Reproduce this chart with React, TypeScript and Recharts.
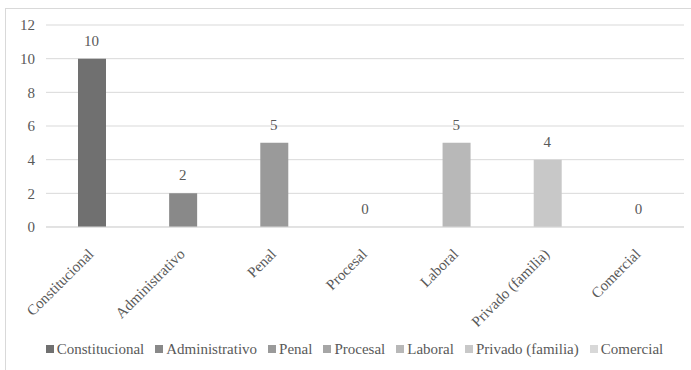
import { ComposedChart, Bar, Line, XAxis, YAxis, CartesianGrid, Cell, LabelList, Legend } from 'recharts';

const categories = ['Constitucional', 'Administrativo', 'Penal', 'Procesal', 'Laboral', 'Privado (familia)', 'Comercial'];
const values = [10, 2, 5, 0, 5, 4, 0];
const colors = ['#707070', '#898989', '#9a9a9a', '#a6a6a6', '#b8b8b8', '#c8c8c8', '#d8d8d8'];
const yTicks = [0, 2, 4, 6, 8, 10, 12];

const data = categories.map((name, i) => ({ name, value: values[i] }));

const FONT = '"Liberation Serif", serif';
const TEXT = '#595959';
const SIZE = 15;

// rotated category label, text ends near the tick
const AngledTick = (props: any) => {
	const { x, y, payload } = props;
	return (
		<g transform={`translate(${x + 3},${y + 20})`}>
			<text transform='rotate(-45)' textAnchor='end' fontSize={SIZE} fontFamily={FONT} fill={TEXT}>
				{payload.value}
			</text>
		</g>
	);
};

const LegendBox = () => (
	<div
		style={{
			display: 'flex',
			justifyContent: 'center',
			fontFamily: FONT,
			fontSize: SIZE,
			color: TEXT,
			lineHeight: '20px',
			whiteSpace: 'nowrap',
			paddingLeft: 30,
		}}
	>
		{categories.map((name, i) => (
			<span key={name} style={{ display: 'inline-flex', alignItems: 'center', marginRight: 11 }}>
				<span style={{ width: 8, height: 8, background: colors[i], marginRight: 3 }} />
				{name}
			</span>
		))}
	</div>
);

export default function App() {
	return (
		<div
			style={{
				position: 'absolute',
				left: 0,
				top: 0,
				width: 691,
				height: 370,
				overflow: 'hidden',
				background: '#fff',
				fontFamily: FONT,
			}}
		>
			<div
				style={{
					position: 'absolute',
					left: 5,
					top: 8,
					width: 720,
					height: 400,
					borderLeft: '1px solid #d9d9d9',
					borderTop: '1px solid #d9d9d9',
				}}
			/>
			<div style={{ position: 'absolute', left: 0, top: 0 }}>
				<ComposedChart width={691} height={370} data={data} margin={{ top: 25, right: 7, left: 6, bottom: 11 }}>
					<CartesianGrid vertical={false} stroke='#d9d9d9' />
					<XAxis
						dataKey='name'
						interval={0}
						height={112}
						tickLine={false}
						axisLine={{ stroke: '#d9d9d9' }}
						tick={<AngledTick />}
					/>
					<YAxis
						width={40}
						domain={[0, 12]}
						ticks={yTicks}
						axisLine={false}
						tickLine={false}
						tickMargin={5}
						tick={{ fontSize: SIZE, fontFamily: FONT, fill: TEXT }}
					/>
					<Legend verticalAlign='bottom' content={<LegendBox />} wrapperStyle={{ height: 20 }} />
					<Bar dataKey='value' barSize={28} isAnimationActive={false}>
						{data.map((d, i) => (
							<Cell key={d.name} fill={colors[i]} />
						))}
					</Bar>
					{/* invisible series that carries the value labels, so the zeros get one too */}
					<Line
						dataKey='value'
						stroke='none'
						dot={false}
						activeDot={false}
						legendType='none'
						isAnimationActive={false}
					>
						<LabelList dataKey='value' position='top' offset={13} fontSize={SIZE} fontFamily={FONT} fill={TEXT} />
					</Line>
				</ComposedChart>
			</div>
		</div>
	);
}
